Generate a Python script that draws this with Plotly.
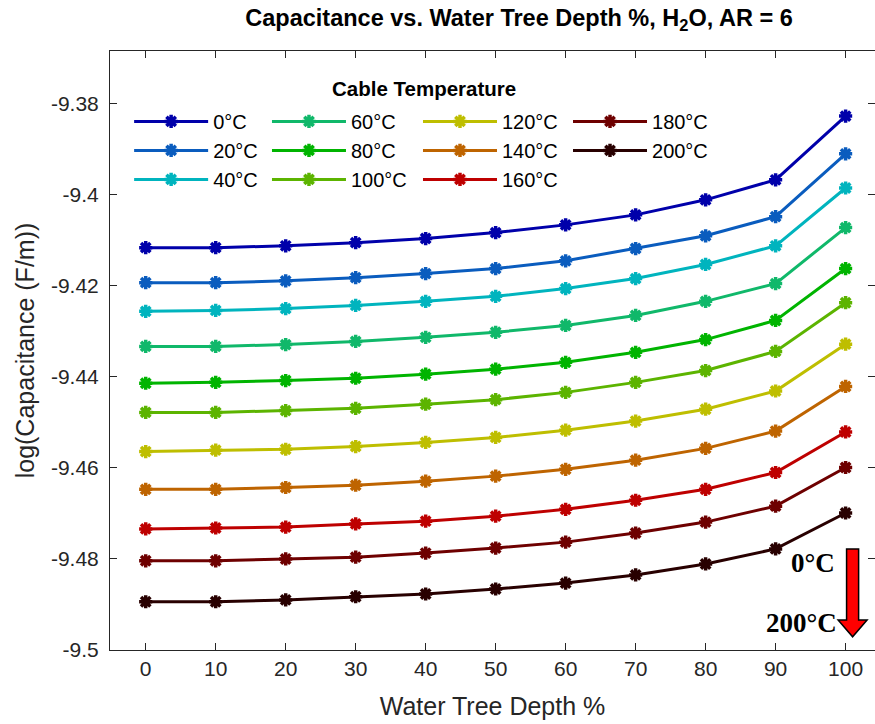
import plotly.graph_objects as go

depth = [0, 10, 20, 30, 40, 50, 60, 70, 80, 90, 100]
temps = ["0°C", "20°C", "40°C", "60°C", "80°C", "100°C", "120°C", "140°C", "160°C", "180°C", "200°C"]

c0 = [-9.4116, -9.4116, -9.4112, -9.4105, -9.4096, -9.4083, -9.4066, -9.4044, -9.4011, -9.3967, -9.3827]
c20 = [-9.4193, -9.4193, -9.4189, -9.4182, -9.4173, -9.4162, -9.4145, -9.4118, -9.4090, -9.4048, -9.3910]
c40 = [-9.4256, -9.4254, -9.4250, -9.4243, -9.4234, -9.4223, -9.4206, -9.4184, -9.4153, -9.4112, -9.3985]
c60 = [-9.4333, -9.4333, -9.4329, -9.4322, -9.4313, -9.4302, -9.4287, -9.4265, -9.4234, -9.4195, -9.4072]
c80 = [-9.4414, -9.4412, -9.4408, -9.4403, -9.4394, -9.4383, -9.4368, -9.4346, -9.4318, -9.4276, -9.4162]
c100 = [-9.4478, -9.4478, -9.4474, -9.4469, -9.4460, -9.4450, -9.4434, -9.4412, -9.4386, -9.4344, -9.4237]
c120 = [-9.4564, -9.4561, -9.4559, -9.4553, -9.4544, -9.4533, -9.4517, -9.4497, -9.4471, -9.4431, -9.4328]
c140 = [-9.4647, -9.4647, -9.4643, -9.4638, -9.4629, -9.4618, -9.4603, -9.4583, -9.4557, -9.4519, -9.4421]
c160 = [-9.4734, -9.4732, -9.4730, -9.4723, -9.4717, -9.4706, -9.4691, -9.4671, -9.4647, -9.4610, -9.4521]
c180 = [-9.4804, -9.4804, -9.4800, -9.4796, -9.4787, -9.4776, -9.4763, -9.4743, -9.4719, -9.4684, -9.4599]
c200 = [-9.4894, -9.4894, -9.4890, -9.4883, -9.4877, -9.4866, -9.4853, -9.4835, -9.4811, -9.4778, -9.4699]

series = [c0, c20, c40, c60, c80, c100, c120, c140, c160, c180, c200]
colors = ["#0000AA", "#0A5CBE", "#00B4BE", "#10B86A", "#00B400", "#5CB400",
          "#BEBE00", "#BE6400", "#BE0000", "#6E0000", "#280000"]
legend_of = ["legend", "legend", "legend", "legend2", "legend2", "legend2",
             "legend3", "legend3", "legend3", "legend4", "legend4"]

ytickvals = [-9.5, -9.48, -9.46, -9.44, -9.42, -9.4, -9.38]
yticktext = ["-9.5", "-9.48", "-9.46", "-9.44", "-9.42", "-9.4", "-9.38"]
yrange = [-9.5, -9.3684]
xrange = [-5.1, 104.2]

fig = go.Figure()
for name, vals, col, lg in zip(temps, series, colors, legend_of):
    fig.add_trace(go.Scatter(
        x=depth, y=vals, name=name, mode="lines+markers",
        line=dict(color=col, width=3),
        marker=dict(symbol="asterisk", size=11, color=col, line=dict(color=col, width=3.5)),
        legend=lg,
    ))

# invisible trace to carry the right-side tick axis
fig.add_trace(go.Scatter(x=[None], y=[None], yaxis="y2", showlegend=False, hoverinfo="skip"))

font_main = "Liberation Sans, Arial, sans-serif"
axcol = "#262626"

fig.update_layout(
    width=875, height=724,
    margin=dict(l=110, r=0, t=51, b=74),
    paper_bgcolor="white", plot_bgcolor="white",
    font=dict(family=font_main, size=21, color=axcol),
    title=dict(text="<b>Capacitance vs. Water Tree Depth %, H<sub>2</sub>O, AR = 6</b>",
               x=(519 - 110) / 765, xref="paper", xanchor="center", y=0.975, yanchor="middle",
               font=dict(family=font_main, size=23.5, color="black")),
    xaxis=dict(range=xrange, tickvals=depth, ticks="inside", ticklen=7, tickwidth=1,
               tickcolor=axcol, showline=True, linecolor=axcol, linewidth=1, mirror="ticks",
               showgrid=False, zeroline=False,
               title=dict(text="Water Tree Depth %", font=dict(size=25, color=axcol), standoff=18),
               tickfont=dict(size=21, color=axcol)),
    yaxis=dict(range=yrange, tickvals=ytickvals, ticktext=yticktext, ticks="inside", ticklen=7,
               tickwidth=1, tickcolor=axcol, showline=True, linecolor=axcol, linewidth=1,
               mirror=False, showgrid=False, zeroline=False, ticklabelstandoff=6,
               title=dict(text="log(Capacitance (F/m))", font=dict(size=25, color=axcol), standoff=9),
               tickfont=dict(size=21, color=axcol)),
    yaxis2=dict(range=yrange, tickvals=ytickvals, overlaying="y", side="right", ticks="inside",
                ticklen=7, tickwidth=1, tickcolor=axcol, showline=False, showticklabels=False,
                showgrid=False, zeroline=False),
    showlegend=True,
)

legend_common = dict(orientation="v", xanchor="left", yanchor="top", bgcolor="rgba(0,0,0,0)",
                     borderwidth=0, font=dict(size=20, color="black", family=font_main),
                     itemwidth=74)
ytop = 0.915
fig.update_layout(
    legend=dict(x=0.025, y=ytop, **legend_common),
    legend2=dict(x=0.2052, y=ytop, **legend_common),
    legend3=dict(x=0.4026, y=ytop, **legend_common),
    legend4=dict(x=0.5987, y=ytop, **legend_common),
)

fig.add_annotation(text="<b>Cable Temperature</b>", xref="paper", yref="paper",
                   x=(424 - 110) / 765, y=(650 - 89) / 599, xanchor="center", yanchor="middle",
                   showarrow=False, font=dict(size=20.5, color="black", family=font_main))

# red arrow indicating increasing temperature
ax = 101.0
y_top, y_head, y_tip = -9.4778, -9.4934, -9.4971
sw, hw = 0.86, 2.07
path = (f"M {ax - sw},{y_top} L {ax + sw},{y_top} L {ax + sw},{y_head} L {ax + hw},{y_head} "
        f"L {ax},{y_tip} L {ax - hw},{y_head} L {ax - sw},{y_head} Z")
fig.add_shape(type="path", path=path, xref="x", yref="y", fillcolor="#FF0000",
              line=dict(color="black", width=1.5))
serif = "Liberation Serif, Times New Roman, serif"
fig.add_annotation(text="<b>0°C</b>", x=98.7, y=-9.4809, xref="x", yref="y", xanchor="right",
                   yanchor="middle", showarrow=False,
                   font=dict(family=serif, size=27, color="black"))
fig.add_annotation(text="<b>200°C</b>", x=99.0, y=-9.4941, xref="x", yref="y", xanchor="right",
                   yanchor="middle", showarrow=False,
                   font=dict(family=serif, size=27, color="black"))

fig.write_html("out.html")
